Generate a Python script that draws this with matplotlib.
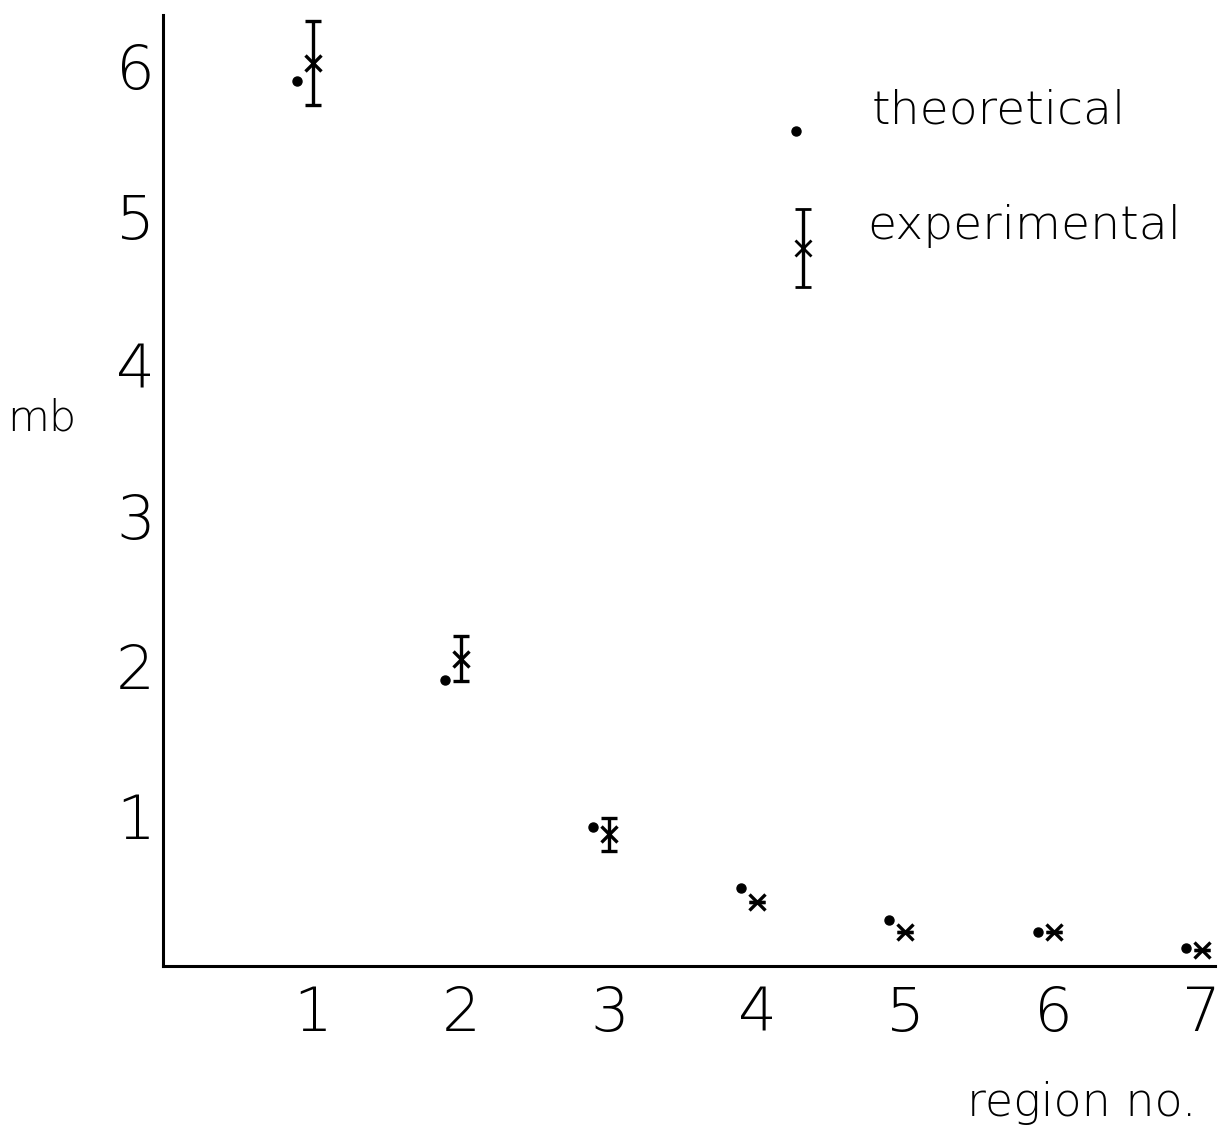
import matplotlib
matplotlib.use("Agg")
import matplotlib.pyplot as plt
import matplotlib.transforms as mtransforms

# Cross sections per region (mb)
regions = [1, 2, 3, 4, 5, 6, 7]
theoretical = [5.90, 1.91, 0.93, 0.52, 0.31, 0.23, 0.12]
experimental = [6.02, 2.05, 0.88, 0.43, 0.23, 0.23, 0.11]
exp_error = [0.28, 0.15, 0.11, 0.0, 0.0, 0.0, 0.0]
x_ticks = [1, 2, 3, 4, 5, 6, 7]
y_ticks = [1, 2, 3, 4, 5, 6]

plt.rcParams["font.family"] = ["DejaVu Sans"]
FONT = dict(fontweight=200, color="black")

fig = plt.figure(figsize=(12.27, 11.32), dpi=100)
ax = fig.add_axes([163 / 1227, 1 - 966 / 1132, (1215 - 163) / 1227, (966 - 15) / 1132])

ax.set_xlim(-0.0135, 7.09)
ax.set_ylim(0, 6.34)

# theoretical dots sit a little to the left of the measured points
shift = mtransforms.ScaledTranslation(-0.16, 0.0, fig.dpi_scale_trans)
ax.plot(regions, theoretical, linestyle="none", marker="o", markersize=6.5,
        color="black", transform=ax.transData + shift)

# measured values with error bars
ax.errorbar(regions, experimental, yerr=exp_error, fmt="x", markersize=11,
            markeredgewidth=2.4, color="black", ecolor="black",
            elinewidth=2.4, capsize=6, capthick=2.6)

# axes styling
for side in ("top", "right"):
    ax.spines[side].set_visible(False)
for side in ("left", "bottom"):
    ax.spines[side].set_linewidth(2.2)
ax.set_xticks(x_ticks)
ax.set_yticks(y_ticks)
ax.set_xticklabels([str(v) for v in x_ticks], fontsize=44, **FONT)
ax.set_yticklabels([str(v) for v in y_ticks], fontsize=44, **FONT)
ax.tick_params(axis="both", length=0)
ax.tick_params(axis="x", pad=14)
ax.tick_params(axis="y", pad=6)

fig.text(42 / 1227, 1 - 418 / 1132, "mb", fontsize=31, ha="center",
         va="center", **FONT)
fig.text(1082 / 1227, 1 - 1103 / 1132, "region no.", fontsize=33,
         ha="center", va="center", **FONT)

# key
ax.plot([4.26], [5.57], marker="o", markersize=6.5, color="black")
ax.errorbar([4.31], [4.79], yerr=[0.26], fmt="x", markersize=11,
            markeredgewidth=2.0, color="black", elinewidth=2.4,
            capsize=6, capthick=2.6)
fig.text(872 / 1227, 1 - 110 / 1132, "theoretical", fontsize=34,
         ha="left", va="center", **FONT)
fig.text(867 / 1227, 1 - 226 / 1132, "experimental", fontsize=34,
         ha="left", va="center", **FONT)

fig.savefig("out.png", dpi=100)
